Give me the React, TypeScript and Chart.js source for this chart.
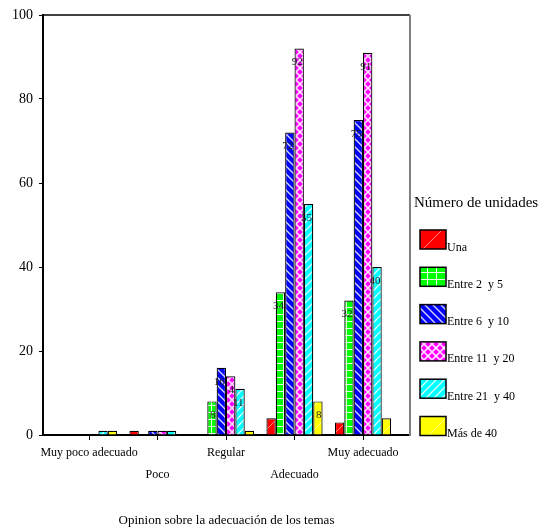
import React, { useEffect, useRef } from 'react';
import { Chart, registerables } from 'chart.js';
Chart.register(...registerables);

const categories = ['Muy poco adecuado', 'Poco', 'Regular', 'Adecuado', 'Muy adecuado'];
const seriesNames = ['Una', 'Entre 2  y 5', 'Entre 6  y 10', 'Entre 11  y 20', 'Entre 21  y 40', 'Más de 40'];
const una = [0, 1, 0, 4, 3];
const entre2y5 = [0, 0, 8, 34, 32];
const entre6y10 = [0, 1, 16, 72, 75];
const entre11y20 = [0, 1, 14, 92, 91];
const entre21y40 = [1, 1, 11, 55, 40];
const masDe40 = [1, 0, 1, 8, 4];
const yTicks = [0, 20, 40, 60, 80, 100];
const legendTitle = 'Número de unidades';
const xTitle = 'Opinion sobre la adecuación de los temas';

const FONT = "'Liberation Serif', 'Times New Roman', serif";

function makePattern(kind: string, color: string): CanvasPattern | string {
  const c = document.createElement('canvas');
  let w = 8, h = 8;
  if (kind === 'sparse') { w = 24; h = 24; }
  if (kind === 'grid') { w = 9; h = 7; }
  c.width = w; c.height = h;
  const ctx = c.getContext('2d');
  if (!ctx) return color;
  ctx.fillStyle = color;
  ctx.fillRect(0, 0, w, h);
  ctx.strokeStyle = 'rgba(255,255,255,0.85)';
  ctx.fillStyle = 'rgba(255,255,255,0.9)';
  ctx.lineWidth = 1;
  const line = (x1: number, y1: number, x2: number, y2: number) => {
    ctx.beginPath(); ctx.moveTo(x1, y1); ctx.lineTo(x2, y2); ctx.stroke();
  };
  if (kind === 'sparse') {
    ctx.strokeStyle = 'rgba(255,255,255,0.5)';
    line(-2, h + 2, w + 2, -2);
  } else if (kind === 'grid') {
    ctx.fillRect(0, h - 1, w, 1);
    ctx.fillRect(4, 0, 1, h);
  } else if (kind === 'bdiag') {
    ctx.lineWidth = 1.3;
    line(-2, -2, w + 2, h + 2);
    line(-2, h - 2, 2, h + 2);
    line(w - 2, -2, w + 2, 2);
  } else if (kind === 'fdiag') {
    ctx.lineWidth = 1.3;
    line(-2, h + 2, w + 2, -2);
    line(-2, 2, 2, -2);
    line(w - 2, h + 2, w + 2, h - 2);
  } else if (kind === 'cross') {
    ctx.lineWidth = 1.6;
    line(-2, -2, w + 2, h + 2);
    line(-2, h + 2, w + 2, -2);
  }
  const p = ctx.createPattern(c, 'repeat');
  return p || color;
}

export default function App() {
  const ref = useRef<HTMLCanvasElement | null>(null);
  useEffect(() => {
    if (!ref.current) return;
    const seriesValues = [una, entre2y5, entre6y10, entre11y20, entre21y40, masDe40];
    const colors = ['#ff0000', '#00ff00', '#0000ff', '#ff00ff', '#00ffff', '#ffff00'];
    const kinds = ['sparse', 'grid', 'bdiag', 'cross', 'fdiag', 'sparse'];
    const patterns = colors.map((c, i) => makePattern(kinds[i], c));

    const datasets = seriesValues.map((vals, i) => ({
      label: seriesNames[i],
      data: vals.map((v, j) => ({ x: j, y: v === 0 ? null : v })),
      backgroundColor: patterns[i] as any,
      borderColor: '#000',
      borderWidth: 1.2,
      borderSkipped: 'start' as const,
      categoryPercentage: 0.82,
      barPercentage: 1.0,
    }));

    const decor = {
      id: 'decor',
      afterDatasetsDraw(chart: any) {
        const ctx = chart.ctx;
        ctx.save();
        ctx.font = `11px ${FONT}`;
        ctx.fillStyle = '#222';
        ctx.textAlign = 'right';
        ctx.textBaseline = 'middle';
        chart.data.datasets.forEach((ds: any, i: number) => {
          const meta = chart.getDatasetMeta(i);
          meta.data.forEach((el: any, j: number) => {
            const v = seriesValues[i][j];
            if (v >= 5) {
              ctx.fillText(String(v), el.x + 3.5, el.y + 14);
            }
          });
        });
        ctx.restore();
      },
      afterDraw(chart: any) {
        const ctx = chart.ctx;
        const a = chart.chartArea;
        ctx.save();
        ctx.strokeStyle = '#000';
        ctx.lineWidth = 1.5;
        ctx.beginPath();
        ctx.moveTo(a.left, a.top);
        ctx.lineTo(a.right, a.top);
        ctx.stroke();
        ctx.strokeStyle = '#808080';
        ctx.lineWidth = 2;
        ctx.beginPath();
        ctx.moveTo(a.right, a.top);
        ctx.lineTo(a.right, a.bottom + 1);
        ctx.stroke();
        ctx.fillStyle = '#000';
        ctx.font = `15px ${FONT}`;
        ctx.textAlign = 'left';
        ctx.textBaseline = 'middle';
        ctx.fillText(legendTitle, 414, 203);
        ctx.font = `12px ${FONT}`;
        ctx.textBaseline = 'alphabetic';
        seriesNames.forEach((name, i) => {
          const y = 230 + i * 37.3;
          ctx.fillStyle = patterns[i] as any;
          ctx.fillRect(420, y, 26, 19);
          ctx.strokeStyle = '#000';
          ctx.lineWidth = 1.5;
          ctx.strokeRect(420, y, 26, 19);
          ctx.fillStyle = '#000';
          ctx.fillText(name, 447, y + 20.5);
        });
        ctx.restore();
      },
    };

    const chart = new Chart(ref.current, {
      type: 'bar',
      data: { datasets: datasets as any },
      options: {
        animation: false,
        responsive: false,
        layout: { padding: { top: 15, right: 134, left: 0, bottom: 0 } },
        plugins: { legend: { display: false }, tooltip: { enabled: false } },
        scales: {
          x: {
            type: 'linear',
            offset: false,
            min: -0.672,
            max: 4.686,
            afterBuildTicks: (s: any) => { s.ticks = categories.map((_, i) => ({ value: i })); },
            afterFit: (s: any) => { s.height = 93; },
            ticks: {
              autoSkip: false,
              maxRotation: 0,
              minRotation: 0,
              padding: 2,
              color: '#000',
              font: { family: FONT, size: 12, lineHeight: 22 / 12 },
              callback: (v: any) => {
                const i = Math.round(Number(v));
                return i % 2 === 1 ? ['', categories[i]] : categories[i];
              },
            },
            grid: { offset: false, drawOnChartArea: false, drawTicks: true, tickLength: 5, color: '#000', lineWidth: 1 },
            border: { display: true, color: '#000', width: 2 },
            title: { display: true, text: xTitle, color: '#000', font: { family: FONT, size: 13 }, padding: { top: 0, bottom: 0 } },
          },
          y: {
            min: 0,
            max: 100,
            afterBuildTicks: (s: any) => { s.ticks = yTicks.map((v) => ({ value: v })); },
            afterFit: (s: any) => { s.width = 43; },
            ticks: { color: '#000', padding: 6, font: { family: FONT, size: 14 } },
            grid: { drawOnChartArea: false, drawTicks: true, tickLength: 4, color: '#000', lineWidth: 1 },
            border: { display: true, color: '#000', width: 2 },
          },
        },
      },
      plugins: [decor],
    });
    return () => chart.destroy();
  }, []);

  return (
    <div style={{ position: 'absolute', left: 0, top: 0, width: 544, height: 528, background: '#fff' }}>
      <canvas ref={ref} width={544} height={528} style={{ display: 'block' }} />
    </div>
  );
}
